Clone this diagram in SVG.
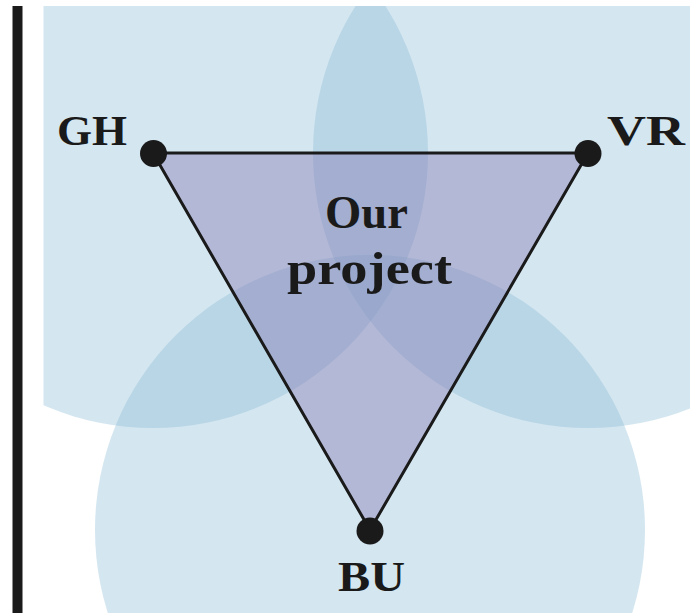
<svg xmlns="http://www.w3.org/2000/svg" width="690" height="613" viewBox="0 0 690 613">
<defs>
<style>
.area{fill:#8bbcd7;fill-opacity:0.37}
.lbl{font-family:"Liberation Serif","DejaVu Serif",serif;font-weight:bold;font-size:42px;fill:#1a1a1a;text-anchor:start}
.big{font-size:46px}
.dot{fill:#1a1a1a}
</style>
<clipPath id="clip"><rect x="43.5" y="6" width="646.5" height="607"/></clipPath>
</defs>
<rect width="690" height="613" fill="#ffffff"/>
<rect id="bar" x="12.5" y="6" width="10" height="607" fill="#1a1a1a"/>
<g id="areas" clip-path="url(#clip)">
<circle id="area-GH" class="area" cx="153" cy="153" r="275"/>
<circle id="area-VR" class="area" cx="588" cy="153" r="275"/>
<circle id="area-BU" class="area" cx="370" cy="530" r="275"/>
</g>
<g id="connectors">
<polygon points="153,153 588,153 370,530" fill="#8272b0" fill-opacity="0.4" stroke="#1a1a1a" stroke-width="3" stroke-linejoin="round"/>
</g>
<g id="node-GH"><circle class="dot" cx="153.5" cy="153.5" r="13.5"/><text class="lbl" x="57" y="145" textLength="70" lengthAdjust="spacingAndGlyphs">GH</text></g>
<g id="node-VR"><circle class="dot" cx="588" cy="153.5" r="13.5"/><text class="lbl" x="607" y="145" textLength="78" lengthAdjust="spacingAndGlyphs">VR</text></g>
<g id="node-BU"><circle class="dot" cx="370" cy="531" r="13.5"/><text class="lbl" x="338" y="591" textLength="67" lengthAdjust="spacingAndGlyphs">BU</text></g>
<g id="node-project"><text class="lbl big" x="325" y="228" textLength="83" lengthAdjust="spacingAndGlyphs">Our</text><text class="lbl big" x="287" y="284" textLength="165" lengthAdjust="spacingAndGlyphs">project</text></g>
</svg>
